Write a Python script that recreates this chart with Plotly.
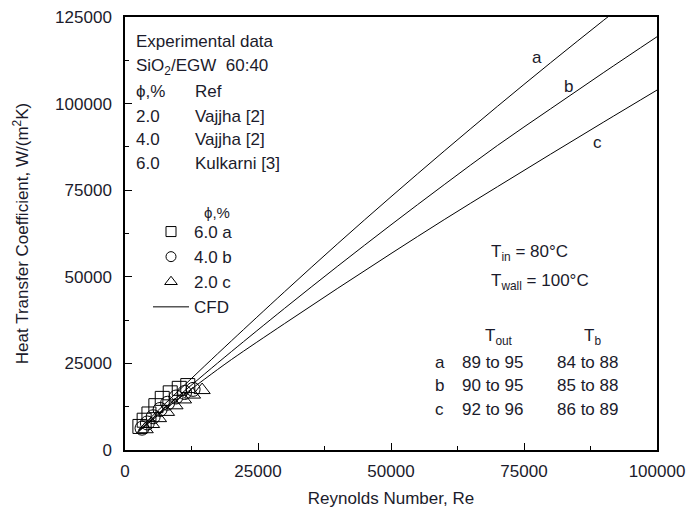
import plotly.graph_objects as go

# ---------------- data ----------------
re_cfd = [2500, 5000, 10000, 15000, 20000, 30000, 40000, 50000, 60000, 70000, 80000, 90000, 100000]
h_cfd_a = [5800, 9600, 17000, 24300, 31500, 45700, 59600, 73100, 86300, 99200, 111800, 124100, 136200]
h_cfd_b = [5400, 8800, 15500, 22000, 28400, 40900, 53100, 65000, 76600, 87900, 98500, 109000, 119300]
h_cfd_c = [5200, 8500, 14700, 20500, 26100, 36500, 46700, 56700, 66500, 76000, 85400, 94700, 103900]

re_exp_6 = [2800, 3600, 4500, 5800, 7000, 8500, 10200, 11800]
h_exp_6 = [6800, 8600, 10400, 12800, 14900, 16500, 17800, 18600]
re_exp_4 = [3200, 4200, 5300, 6600, 8000, 9600, 11200, 12800]
h_exp_4 = [6300, 7800, 9600, 11700, 13500, 15300, 16600, 17500]
re_exp_2 = [3800, 5000, 6300, 7800, 9400, 11000, 12700, 14500]
h_exp_2 = [6000, 7500, 9200, 11000, 12900, 14600, 16000, 17300]

x_ticks = [0, 25000, 50000, 75000, 100000]
y_ticks = [0, 25000, 50000, 75000, 100000, 125000]

FONT = "Liberation Sans, Arial, sans-serif"
TXT = "#1b1b2b"
FS = 17

# plot area in pixels (for placing text)
L, R, T, B = 125, 657, 17, 450
W, H = 693, 520


def px(xp):
    return (xp - L) / (R - L)


def py(yp):
    return (B - yp) / (B - T)


fig = go.Figure()

series = [
    ("6.0 a", re_exp_6, h_exp_6, "square-open", 10),
    ("4.0 b", re_exp_4, h_exp_4, "circle-open", 10),
    ("2.0 c", re_exp_2, h_exp_2, "triangle-up-open", 11),
]
for name, xs, ys, sym, lsize in series:
    fig.add_trace(go.Scatter(
        x=xs, y=ys, mode="markers", name=name, showlegend=False,
        marker=dict(symbol=sym, size=14, color="black", line=dict(width=1, color="black")),
    ))

for i, ys in enumerate([h_cfd_a, h_cfd_b, h_cfd_c]):
    fig.add_trace(go.Scatter(
        x=re_cfd, y=ys, mode="lines", name="CFD", showlegend=False,
        line=dict(color="black", width=1, shape="spline"),
    ))

# legend entries (legend only, no data)
for name, xs, ys, sym, lsize in series:
    fig.add_trace(go.Scatter(
        x=[None], y=[None], mode="markers", name=name,
        marker=dict(symbol=sym, size=lsize, color="black", line=dict(width=1, color="black")),
    ))
fig.add_trace(go.Scatter(x=[None], y=[None], mode="lines", name="CFD",
                         line=dict(color="black", width=1)))

annotations = []


def txt(text, xp, yp, size=FS, anchor="left"):
    annotations.append(dict(
        text=text, x=px(xp), y=py(yp), xref="paper", yref="paper",
        xanchor=anchor, yanchor="middle", showarrow=False,
        font=dict(family=FONT, size=size, color=TXT),
    ))


# top-left block
txt("Experimental data", 134, 42)
txt("SiO<sub>2</sub>/EGW  60:40", 134, 67)
txt("ϕ,%", 134, 91)
txt("Ref", 193, 91)
txt("2.0", 134, 116)
txt("Vajjha [2]", 193, 116)
txt("4.0", 134, 139)
txt("Vajjha [2]", 193, 139)
txt("6.0", 134, 163)
txt("Kulkarni [3]", 193, 163)

# legend header
txt("ϕ,%", 202, 212, size=15)

# conditions
txt("T<sub>in</sub> = 80°C", 489, 253)
txt("T<sub>wall</sub> = 100°C", 489, 282)
txt("T<sub>out</sub>", 483, 337)
txt("T<sub>b</sub>", 582, 337)
rows = [("a", "89 to 95", "84 to 88"), ("b", "90 to 95", "85 to 88"), ("c", "92 to 96", "86 to 89")]
for k, (lab, tout, tb) in enumerate(rows):
    yy = 362 + k * 23.5
    txt(lab, 433, yy)
    txt(tout, 460, yy)
    txt(tb, 555, yy)

# curve labels (data coordinates)
for lab, xv, yv in [("a", 77400, 113300), ("b", 83300, 104800), ("c", 88900, 88900)]:
    annotations.append(dict(
        text=lab, x=xv, y=yv, xref="x", yref="y", showarrow=False,
        font=dict(family=FONT, size=FS, color=TXT),
    ))

axis_common = dict(
    showgrid=False, zeroline=False, showline=True, linecolor="black", linewidth=1.5,
    mirror=True, ticks="inside", ticklen=7, tickwidth=1.2, tickcolor="black",
    tickfont=dict(family=FONT, size=FS, color=TXT), automargin=False,
    minor=dict(ticks="inside", ticklen=4, tickwidth=1.2, tickcolor="black"),
)

fig.update_xaxes(
    range=[0, 100000], tickvals=x_ticks, ticktext=[str(v) for v in x_ticks],
    minor_dtick=12500, ticklabelstandoff=5,
    title=dict(text="Reynolds Number, Re", font=dict(family=FONT, size=FS, color=TXT), standoff=12),
    **axis_common,
)
fig.update_yaxes(
    range=[0, 125000], tickvals=y_ticks, ticktext=[str(v) for v in y_ticks],
    minor_dtick=12500, ticklabelstandoff=8,
    title=dict(text="Heat Transfer Coefficient, W/(m<sup>2</sup>K)",
               font=dict(family=FONT, size=FS, color=TXT), standoff=22),
    **axis_common,
)

fig.update_layout(
    width=W, height=H,
    margin=dict(l=L, r=W - R, t=T, b=H - B, autoexpand=False),
    paper_bgcolor="white", plot_bgcolor="white",
    font=dict(family=FONT, size=FS, color=TXT),
    showlegend=True,
    legend=dict(
        x=px(148), y=py(214), xanchor="left", yanchor="top",
        bgcolor="rgba(0,0,0,0)", borderwidth=0,
        font=dict(family=FONT, size=17, color=TXT),
        tracegroupgap=0, itemwidth=36,
    ),
    annotations=annotations,
)

fig.write_html("out.html")
